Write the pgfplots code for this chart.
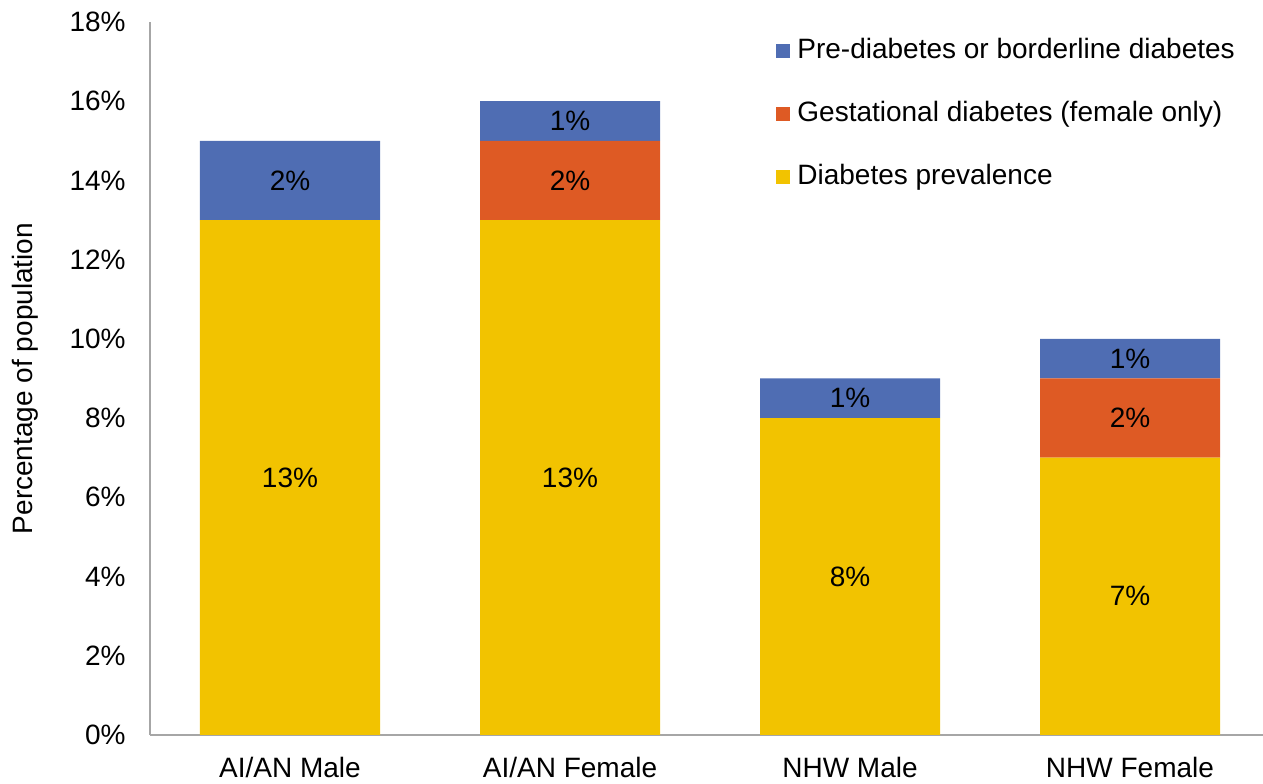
\documentclass[border=0pt]{standalone}
\usepackage{pgfplots}
\pgfplotsset{compat=1.18}
\usepackage{pgfplotstable}
\usepackage{fontspec}
\setmainfont{Liberation Sans}
\definecolor{cblue}{HTML}{4F6DB3}
\definecolor{corange}{HTML}{DE5A24}
\definecolor{cyellow}{HTML}{F2C300}
\definecolor{axgray}{HTML}{A6A6A6}
\pgfplotsset{/pgf/number format/assume math mode=true}
\pgfplotstableread{
x v
0 13
1 13
2 8
3 7
}\diab
\pgfplotstableread{
x v
0 0
1 2
2 0
3 2
}\gest
\pgfplotstableread{
x v
0 2
1 1
2 1
3 1
}\pre
\pgfplotsset{sqlegend/.style={legend image code/.code={\fill[##1,draw=none] (0pt,-3.5pt) rectangle (7pt,3.5pt);}}}
\begin{document}
\fontsize{14pt}{16.8pt}\selectfont
\begin{tikzpicture}
\begin{axis}[
  name=main,
  scale only axis,
  width=556.5pt, height=356.5pt,
  ybar stacked,
  bar width=90pt,
  xmin=-0.5, xmax=3.475,
  ymin=0, ymax=18,
  ytick={0,2,...,18},
  yticklabel={\pgfmathprintnumber{\tick}\%},
  xtick={0,1,2,3},
  xticklabels={AI/AN Male, AI/AN Female, NHW Male, NHW Female},
  axis lines*=left,
  axis line style={draw=axgray, line width=0.75pt},
  major tick length=0pt,
  tick label style={font=\fontsize{14pt}{16.8pt}\selectfont, text=black},
  yticklabel style={inner sep=0pt, anchor=east, xshift=-12pt},
  xticklabel style={inner sep=0pt, anchor=north, yshift=-11pt},
  ylabel={Percentage of population},
  every axis y label/.style={at={(rel axis cs:0,0.5)}, xshift=-62.5pt, rotate=90, anchor=center, font=\fontsize{14pt}{16.8pt}\selectfont},
  point meta=rawy,
  nodes near coords={\pgfmathfloatifflags{\pgfplotspointmeta}{0}{}{\pgfmathprintnumber{\pgfplotspointmeta}\%}},
  every node near coord/.append style={anchor=center, font=\fontsize{14pt}{16.8pt}\selectfont, text=black},
  reverse legend,
  legend style={at={(rel axis cs:0,1)}, anchor=north west, xshift=310pt, yshift=-6pt, draw=none, fill=none,
    font=\fontsize{14pt}{16.8pt}\selectfont, row sep=18.5pt, column sep=3.5pt,
    nodes={inner sep=0pt, text height=10pt, text depth=3pt}},
  legend cell align=left,
]
\addplot[fill=cyellow, draw=none, sqlegend] table[x=x, y=v] {\diab};
\addlegendentry{Diabetes prevalence}
\addplot[fill=corange, draw=none, sqlegend] table[x=x, y=v] {\gest};
\addlegendentry{Gestational diabetes (female only)}
\addplot[fill=cblue, draw=none, sqlegend] table[x=x, y=v] {\pre};
\addlegendentry{Pre-diabetes or borderline diabetes}
\end{axis}
\pgfresetboundingbox
\path ([shift={(-75pt,-24.5pt)}]main.south west) rectangle ([shift={(0pt,11pt)}]main.north east);
\end{tikzpicture}
\end{document}
